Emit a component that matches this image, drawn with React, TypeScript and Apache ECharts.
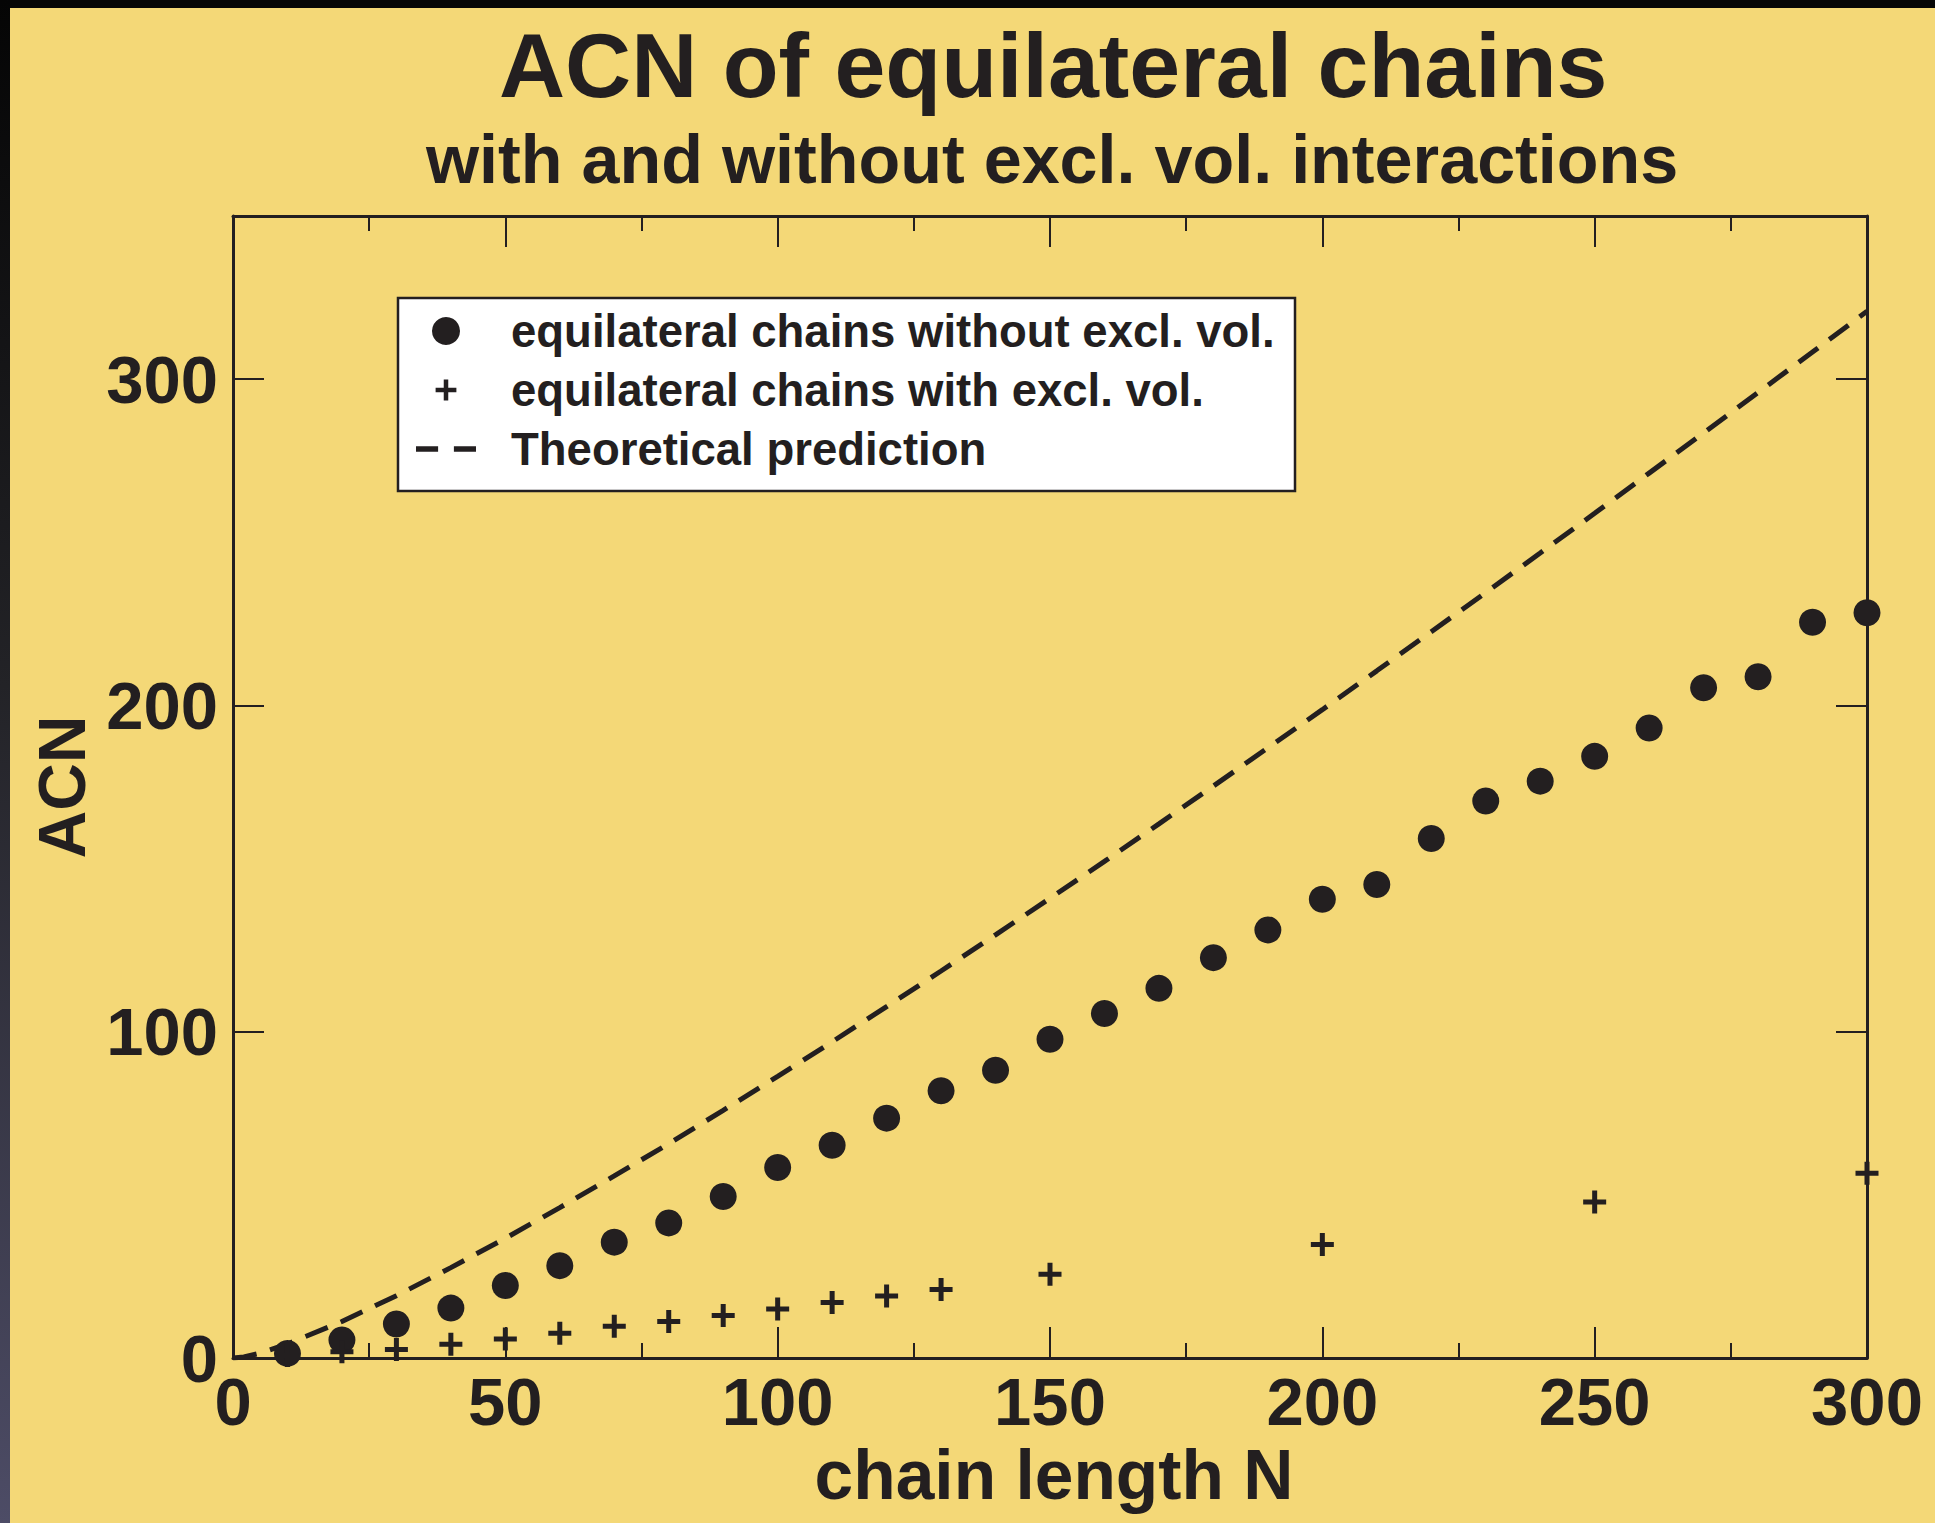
import React, { useEffect, useRef } from "react";
import * as echarts from "echarts";

// Average crossing number (ACN) versus chain length N.
const chainLengths = [
  10, 20, 30, 40, 50, 60, 70, 80, 90, 100, 110, 120, 130, 140, 150,
  160, 170, 180, 190, 200, 210, 220, 230, 240, 250, 260, 270, 280, 290, 300,
];
const acnWithoutExclVol = [
  1.4, 5.5, 10.4, 15.3, 22.2, 28.3, 35.5, 41.4, 49.5, 58.4, 65.2, 73.5, 81.9, 88.2, 97.7,
  105.6, 113.3, 122.7, 131.2, 140.6, 145.1, 159.2, 170.7, 176.8, 184.4, 193.1, 205.4, 208.8, 225.5, 228.4,
];

const exclVolLengths = [10, 20, 30, 40, 50, 60, 70, 80, 90, 100, 110, 120, 130, 150, 200, 250, 300];
const acnWithExclVol = [0.8, 1.9, 2.6, 4.2, 5.8, 7.6, 9.7, 11.2, 13.0, 15.0, 17.0, 19.0, 21.0, 25.7, 34.8, 47.8, 56.6];

const predictionLengths = [
  0, 2, 5, 10, 20, 30, 40, 50, 60, 70, 80, 90, 100, 110, 120, 130, 140, 150,
  160, 170, 180, 190, 200, 210, 220, 230, 240, 250, 260, 270, 280, 290, 300,
];
const predictionValues = [
  0, 0.3, 1.5, 4.3, 11.2, 19.1, 27.7, 36.7, 46.1, 55.8, 65.7, 75.9, 86.3, 96.9, 107.7, 118.6, 129.7, 140.9,
  152.2, 163.7, 175.3, 187.0, 198.7, 210.6, 222.6, 234.6, 246.7, 258.9, 271.2, 283.5, 295.9, 308.3, 320.8,
];

const TITLE = "ACN of equilateral chains";
const SUBTITLE = "with and without excl. vol. interactions";
const X_NAME = "chain length N";
const Y_NAME = "ACN";
const SERIES_NO_EV = "equilateral chains without excl. vol.";
const SERIES_EV = "equilateral chains with excl. vol.";
const SERIES_THEORY = "Theoretical prediction";

const INK = "#231f20";
const PAPER = "#f4d877";
const FONT = '"Liberation Sans", Arial, Helvetica, sans-serif';

const PLUS = "path://M9,0H14V9H23V14H14V23H9V14H0V9H9Z";
// same cross with an empty margin so the legend glyph comes out a little smaller
const PLUS_SMALL = "path://M-4,-4M27,27M9,0H14V9H23V14H14V23H9V14H0V9H9Z";
// two short dashes for the legend entry of the dashed curve
const DASH_PAIR = "path://M0,0H21V5H0Z M36,0H57V5H36Z";

const zip = (xs: number[], ys: number[]) => xs.map((x, i) => [x, ys[i]]);

export default function App() {
  const ref = useRef<HTMLDivElement>(null);

  useEffect(() => {
    if (!ref.current) return;
    const chart = echarts.init(ref.current, undefined, { renderer: "svg" });

    const frameAxis = {
      axisLine: { show: true, onZero: false, lineStyle: { color: INK, width: 3 } },
      splitLine: { show: false },
    };
    const ticks = { show: true, inside: true, length: 31, lineStyle: { color: INK, width: 2 } };
    const minorTicks = { show: true, splitNumber: 2, length: 15, lineStyle: { color: INK, width: 2 } };

    chart.setOption({
      animation: false,
      backgroundColor: PAPER,
      title: [
        {
          text: TITLE,
          left: 494,
          top: 14,
          textStyle: { fontFamily: FONT, fontWeight: "bold", fontSize: 91.5, color: INK },
        },
        {
          text: SUBTITLE,
          left: 421,
          top: 120,
          textStyle: { fontFamily: FONT, fontWeight: "bold", fontSize: 68.3, color: INK },
        },
      ],
      grid: { left: 233, top: 216, right: 68, bottom: 165, outerBoundsMode: "none", containLabel: false },
      xAxis: [
        {
          type: "value",
          min: 0,
          max: 300,
          interval: 50,
          position: "bottom",
          ...frameAxis,
          axisTick: ticks,
          minorTick: minorTicks,
          axisLabel: { margin: 10, fontFamily: FONT, fontWeight: "bold", fontSize: 67, color: INK },
          name: X_NAME,
          nameLocation: "middle",
          nameGap: 72,
          nameTextStyle: { fontFamily: FONT, fontWeight: "bold", fontSize: 69.5, color: INK, padding: [0, 0, 0, 8] },
        },
        {
          type: "value",
          min: 0,
          max: 300,
          interval: 50,
          position: "top",
          ...frameAxis,
          axisTick: ticks,
          minorTick: minorTicks,
          axisLabel: { show: false },
        },
      ],
      yAxis: [
        {
          type: "value",
          min: 0,
          max: 350,
          interval: 100,
          position: "left",
          ...frameAxis,
          axisTick: ticks,
          axisLabel: {
            margin: 15,
            showMaxLabel: false,
            fontFamily: FONT,
            fontWeight: "bold",
            fontSize: 67,
            color: INK,
          },
          name: Y_NAME,
          nameLocation: "middle",
          nameGap: 133,
          nameTextStyle: { fontFamily: FONT, fontWeight: "bold", fontSize: 66, color: INK },
        },
        {
          type: "value",
          min: 0,
          max: 350,
          interval: 100,
          position: "right",
          ...frameAxis,
          axisTick: ticks,
          axisLabel: { show: false },
        },
      ],
      legend: {
        orient: "vertical",
        left: 416,
        top: 308,
        padding: 0,
        itemWidth: 60,
        itemHeight: 28,
        itemGap: 13,
        selectedMode: false,
        textStyle: {
          fontFamily: FONT,
          fontWeight: "bold",
          fontSize: 45.5,
          color: INK,
          padding: [0, 0, 0, 30],
        },
        data: [
          { name: SERIES_NO_EV, icon: "circle" },
          { name: SERIES_EV, icon: PLUS_SMALL },
          { name: SERIES_THEORY, icon: DASH_PAIR },
        ],
      },
      graphic: [
        {
          type: "rect",
          z: 3,
          shape: { x: 398, y: 298, width: 897, height: 193 },
          style: { fill: "#ffffff", stroke: INK, lineWidth: 2.5 },
        },
        {
          type: "rect",
          z: 10,
          shape: { x: 0, y: 0, width: 1935, height: 8 },
          style: { fill: "#060606" },
        },
        {
          type: "rect",
          z: 10,
          shape: { x: 0, y: 0, width: 10, height: 1523 },
          style: {
            fill: new echarts.graphic.LinearGradient(0, 0, 0, 1, [
              { offset: 0, color: "#050505" },
              { offset: 0.45, color: "#232327" },
              { offset: 1, color: "#4d4c66" },
            ]),
          },
        },
      ],
      series: [
        {
          name: SERIES_THEORY,
          type: "line",
          data: zip(predictionLengths, predictionValues),
          symbol: "none",
          showSymbol: false,
          smooth: false,
          lineStyle: { color: INK, width: 5, type: [24, 14] },
          itemStyle: { color: INK },
          z: 2,
        },
        {
          name: SERIES_NO_EV,
          type: "scatter",
          data: zip(chainLengths, acnWithoutExclVol),
          symbol: "circle",
          symbolSize: 27,
          itemStyle: { color: INK, opacity: 1 },
          z: 3,
        },
        {
          name: SERIES_EV,
          type: "scatter",
          data: zip(exclVolLengths, acnWithExclVol),
          symbol: PLUS,
          symbolSize: 23,
          itemStyle: { color: INK, opacity: 1 },
          z: 3,
        },
      ],
    });

    return () => chart.dispose();
  }, []);

  return (
    <div
      ref={ref}
      style={{ position: "absolute", left: 0, top: 0, width: 1935, height: 1523 }}
    />
  );
}
